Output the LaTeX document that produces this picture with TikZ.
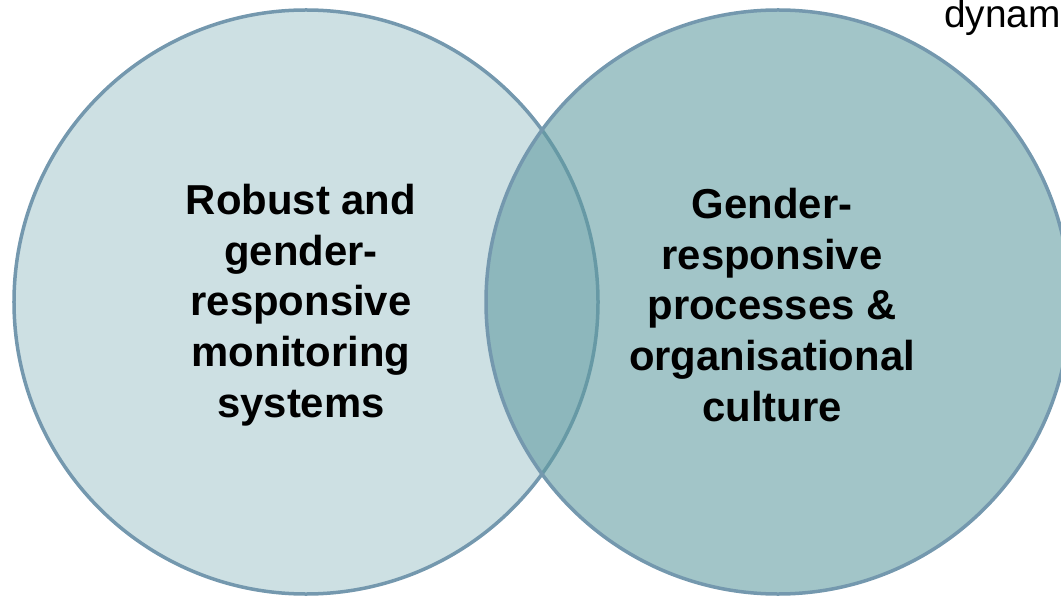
\documentclass[tikz,border=0pt]{standalone}
\usepackage{fontspec}
\setmainfont{Liberation Sans}
\usepackage{tikz}

\definecolor{ringblue}{RGB}{116,152,174}
\definecolor{leftfill}{RGB}{205,224,227}
\definecolor{rightfill}{RGB}{95,155,160}

\tikzset{
  set/.style={draw=ringblue, line width=3.5bp},
  setlabel/.style={align=center, font=\fontsize{42}{51}\selectfont\bfseries}
}

\begin{document}
\begin{tikzpicture}[x=1bp, y=-1bp]
			\useasboundingbox (0,0) rectangle (1061,598);

			% Heading, cut at the right edge
			\node[anchor=base east, inner sep=0pt, font=\fontsize{39}{44}\selectfont] (head) at (1061,28) {dynam};

			% Left set
			\draw[set, fill=leftfill] (306,302) circle[radius=292bp];
			\coordinate (lcentre) at (301,305);

			% Right set, laid over the left one
			\fill[rightfill, fill opacity=0.58] (778,302) circle[radius=292bp];
			\draw[set] (778,302) circle[radius=292bp];
			\coordinate (rcentre) at (772,305);

			% Labels
			\node[setlabel] (monitoring) at (lcentre) {Robust and\\gender-\\responsive\\monitoring\\systems};
			\node[setlabel] (culture) at (rcentre) {Gender-\\responsive\\processes \&\\organisational\\culture};
		\end{tikzpicture}
\end{document}
